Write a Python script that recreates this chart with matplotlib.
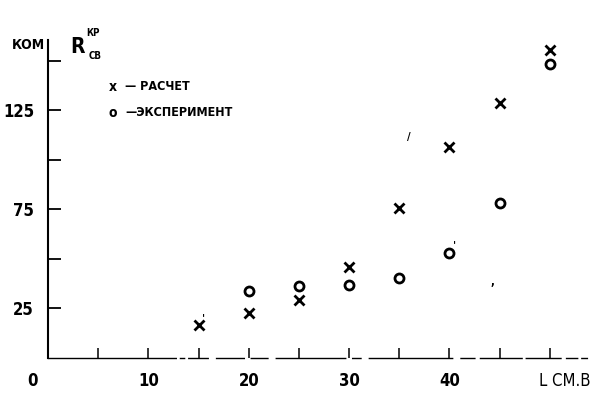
import matplotlib
matplotlib.use("Agg")
import matplotlib.pyplot as plt

# Data
L_calc = [15, 20, 25, 30, 35, 40, 45, 50]
R_calc = [16.7, 22.7, 29.3, 46.0, 75.8, 106.6, 128.8, 155.6]
L_exp = [20, 25, 30, 35, 40, 45, 50]
R_exp = [33.8, 36.4, 36.9, 40.4, 53.0, 78.3, 148.5]
y_ticks = [25, 50, 75, 100, 125, 150]
y_labels = ["25", "", "75", "", "125", ""]
x_ticks = [5, 10, 15, 20, 25, 30, 35, 40, 45, 50]
x_label_vals = [0, 10, 20, 30, 40]

W, H = 592, 396
fig = plt.figure(figsize=(W / 100, H / 100), dpi=100)
ax = fig.add_axes([48 / W, (H - 358) / H, (590 - 48) / W, (358 - 40) / H])
ax.set_xlim(0, 54)
ax.set_ylim(0, 160.6)

FONT = dict(family="DejaVu Sans", weight="bold", stretch="condensed")

ax.plot(L_calc, R_calc, linestyle="none", marker="x", ms=7, mew=2.0, color="black")
ax.plot(L_exp, R_exp, linestyle="none", marker="o", ms=6.5, mew=2.0,
        mfc="white", mec="black")

for s in ["top", "right"]:
    ax.spines[s].set_visible(False)
ax.spines["left"].set_linewidth(1.5)
ax.spines["bottom"].set_linewidth(1.0)
ax.spines["bottom"].set_linestyle((0, (92, 3, 3, 3, 14, 6, 20, 5, 12, 6, 50, 5, 6, 6, 60, 6, 10, 4, 30, 3, 25, 4, 8, 3, 4, 3)))

ax.set_yticks(y_ticks)
ax.set_yticklabels(y_labels, fontsize=12, **FONT)
ax.tick_params(axis="y", direction="in", length=9, width=1.3, pad=10)
ax.set_xticks(x_ticks)
ax.set_xticklabels([])
ax.tick_params(axis="x", direction="in", length=7, width=1.1)

# x tick labels (0 sits at the corner)
for v in x_label_vals:
    xpix = 32 if v == 0 else 48 + v * 10.04
    fig.text(xpix / W, 1 - 381 / H, str(v), ha="center", va="center",
             fontsize=12, **FONT)
fig.text(565 / W, 1 - 381 / H, "L СМ.В", ha="center", va="center",
         fontsize=12, family="DejaVu Sans", stretch="condensed")

# y unit and quantity labels
fig.text(28 / W, 1 - 45 / H, "КОМ", ha="center", va="center", fontsize=10, **FONT)
fig.text(78 / W, 1 - 47 / H, "R", ha="center", va="center", fontsize=15,
         family="DejaVu Sans", weight="bold", stretch="condensed")
fig.text(93 / W, 1 - 33 / H, "КР", ha="center", va="center", fontsize=7, **FONT)
fig.text(95 / W, 1 - 56 / H, "СВ", ha="center", va="center", fontsize=7, **FONT)

# legend
fig.text(113 / W, 1 - 87 / H, "x", ha="center", va="center", fontsize=10, **FONT)
fig.text(125 / W, 1 - 87 / H, "— РАСЧЕТ", ha="left", va="center", fontsize=9, **FONT)
fig.text(113 / W, 1 - 113 / H, "o", ha="center", va="center", fontsize=10, **FONT)
fig.text(125 / W, 1 - 113 / H, "—ЭКСПЕРИМЕНТ", ha="left", va="center", fontsize=9, **FONT)

# stray scan marks
for (px, py, t) in [(204, 318, "'"), (455, 245, "'"), (409, 137, "/"), (492, 282, ",")]:
    fig.text(px / W, 1 - py / H, t, ha="center", va="center", fontsize=8, **FONT)

fig.savefig("out.png", dpi=100)
